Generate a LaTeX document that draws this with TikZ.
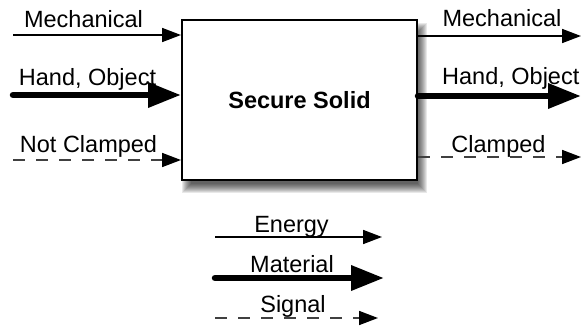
\documentclass[tikz,border=0pt]{standalone}
\usepackage{fontspec}
\setmainfont{Liberation Sans}
\usetikzlibrary{arrows.meta}
\begin{document}
\begin{tikzpicture}[x=1pt,y=-1pt,
  lbl/.style={inner sep=0pt, anchor=base, font=\fontsize{23.5}{28}\selectfont},
  energyarrow/.style={line width=1.7pt, -{Triangle[length=19pt,width=14pt]}},
  materialarrow/.style={line width=6.5pt, line cap=round, -{Triangle[length=33pt,width=24pt]}},
  signalarrow/.style={line width=1.7pt, draw=black!75, dash pattern=on 12pt off 11pt, -{Triangle[length=19pt,width=14pt,color=black,fill=black]}},
  funcbox/.style={draw, line width=2pt, fill=white, minimum width=235pt, minimum height=160pt, inner sep=0pt}
]
\useasboundingbox (0,0) rectangle (581,327);
% shadow
\node[minimum width=235pt, minimum height=160pt, inner sep=0pt] (sh) at (299.5,100) {};
\foreach \i in {0,...,9}{
  \fill[black, opacity=0.09] ([shift={(\i,3+\i)}]sh.north west) rectangle ([shift={(10-\i,13-\i)}]sh.south east);
}
\node[funcbox] (box) at (299.5,100) {};
\node[lbl, font=\fontsize{23.5}{28}\selectfont\bfseries, anchor=center] (title) at (box.center) {Secure Solid};

% inputs
\coordinate (in1) at (13,35);
\coordinate (in2) at (13,95);
\coordinate (in3) at (13,160);
\draw[energyarrow] (in1) -- (in1 -| box.west);
\draw[materialarrow] (in2) -- (in2 -| box.west);
\draw[signalarrow] (in3) -- (in3 -| box.west);
\node[lbl] (l1) at (83.5,27) {Mechanical};
\node[lbl] (l2) at (87.5,85) {Hand, Object};
\node[lbl] (l3) at (88.5,152) {Not Clamped};

% outputs
\coordinate (out1) at (581,36);
\coordinate (out2) at (581,96);
\coordinate (out3) at (581,157);
\draw[energyarrow] (out1 -| box.east) -- (out1);
\draw[materialarrow] (out2 -| box.east) -- (out2);
\draw[signalarrow] (out3 -| box.east) -- (out3);
\node[lbl] (r1) at (502,26) {Mechanical};
\node[lbl, anchor=base west] (r2) at (442,84) {Hand, Object};
\node[lbl] (r3) at (498.5,152) {Clamped};

% legend
\coordinate (e1) at (215,237);
\coordinate (e2) at (382,237);
\coordinate (m1) at (215,278);
\coordinate (m2) at (384,278);
\coordinate (s1) at (215,318);
\coordinate (s2) at (378,318);
\draw[energyarrow] (e1) -- (e2);
\draw[materialarrow] (m1) -- (m2);
\draw[signalarrow] (s1) -- (s2);
\node[lbl] (le) at (291.5,232) {Energy};
\node[lbl] (lm) at (292,272) {Material};
\node[lbl] (ls) at (293,312) {Signal};
\end{tikzpicture}
\end{document}
